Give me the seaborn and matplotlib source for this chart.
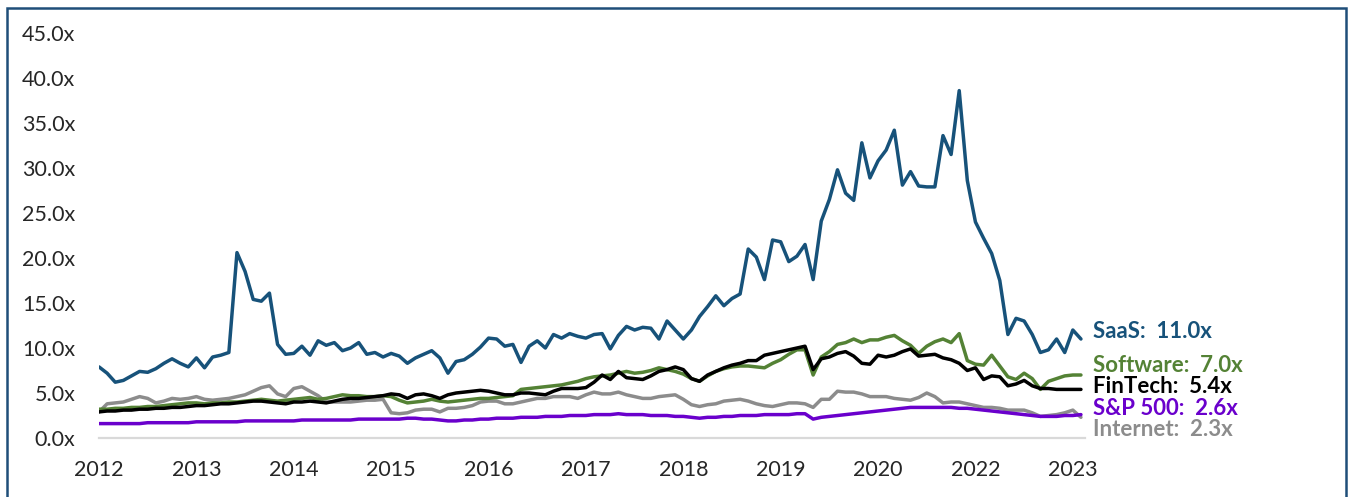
import pandas as pd
import matplotlib.pyplot as plt
import seaborn as sns
from matplotlib.patches import Rectangle

# Valores mensais (índice do mês a partir de jan/2012)
saas = [7.9, 7.2, 6.2, 6.4, 6.9, 7.4, 7.3, 7.7, 8.3, 8.8, 8.3, 7.9, 8.9, 7.8, 9.0, 9.2, 9.5,
        20.6, 18.5, 15.4, 15.2, 16.1, 10.4, 9.3, 9.4, 10.2, 9.2, 10.8, 10.3, 10.6, 9.7, 10.0,
        10.6, 9.3, 9.5, 9.0, 9.4, 9.1, 8.3, 8.9, 9.3, 9.7, 8.9, 7.2, 8.5, 8.7, 9.3, 10.1, 11.1,
        11.0, 10.2, 10.4, 8.4, 10.2, 10.8, 10.0, 11.5, 11.1, 11.6, 11.3, 11.1, 11.5, 11.6, 9.9,
        11.4, 12.4, 12.0, 12.3, 12.2, 11.0, 13.0, 12.0, 11.0, 12.0, 13.5, 14.6, 15.8, 14.7, 15.5,
        16.0, 21.0, 20.1, 17.6, 22.0, 21.8, 19.6, 20.2, 21.5, 17.6, 24.1, 26.5, 29.8, 27.2, 26.4,
        32.8, 28.9, 30.8, 32.0, 34.2, 28.1, 29.6, 28.0, 27.9, 27.9, 33.6, 31.5, 38.6, 28.6, 24.0,
        22.2, 20.5, 17.5, 11.5, 13.3, 13.0, 11.5, 9.5, 9.8, 11.0, 9.5, 12.0, 11.0]

software = [3.2, 3.2, 3.3, 3.3, 3.4, 3.4, 3.5, 3.5, 3.6, 3.7, 3.8, 3.9, 3.9, 3.8, 3.9, 3.9, 4.0,
            4.0, 4.1, 4.2, 4.3, 4.2, 4.1, 4.2, 4.3, 4.4, 4.5, 4.3, 4.4, 4.6, 4.8, 4.7, 4.7, 4.6,
            4.6, 4.7, 4.6, 4.2, 3.9, 4.0, 4.1, 4.3, 4.1, 4.0, 4.1, 4.2, 4.3, 4.4, 4.4, 4.5, 4.6,
            4.7, 5.4, 5.5, 5.6, 5.7, 5.8, 5.9, 6.1, 6.3, 6.6, 6.8, 6.9, 7.0, 7.2, 7.4, 7.2, 7.3,
            7.5, 7.8, 7.6, 7.4, 7.1, 6.6, 6.3, 6.9, 7.4, 7.7, 7.9, 8.0, 8.0, 7.9, 7.8, 8.3, 8.7,
            9.3, 9.8, 9.8, 7.0, 9.0, 9.6, 10.4, 10.6, 11.0, 10.6, 10.9, 10.9, 11.2, 11.4, 10.8,
            10.3, 9.4, 10.2, 10.7, 11.0, 10.6, 11.6, 8.6, 8.2, 8.1, 9.2, 8.0, 6.8, 6.5, 7.2, 6.6,
            5.4, 6.3, 6.6, 6.9, 7.0, 7.0]

fintech = [2.9, 3.0, 3.0, 3.1, 3.1, 3.2, 3.2, 3.3, 3.3, 3.4, 3.4, 3.5, 3.6, 3.6, 3.7, 3.8, 3.8,
           3.9, 4.0, 4.1, 4.1, 4.0, 3.9, 3.8, 4.0, 4.0, 4.1, 4.0, 3.9, 4.1, 4.3, 4.4, 4.4, 4.5,
           4.6, 4.7, 4.9, 4.8, 4.4, 4.8, 4.9, 4.7, 4.4, 4.8, 5.0, 5.1, 5.2, 5.3, 5.2, 5.0, 4.8,
           4.8, 5.0, 5.0, 4.9, 4.8, 5.2, 5.5, 5.5, 5.5, 5.6, 6.2, 7.0, 6.5, 7.4, 6.7, 6.6, 6.5,
           6.9, 7.4, 7.6, 7.9, 7.6, 6.6, 6.3, 7.0, 7.4, 7.8, 8.1, 8.3, 8.6, 8.6, 9.2, 9.4, 9.6,
           9.8, 10.0, 10.2, 7.6, 8.8, 9.0, 9.4, 9.6, 9.1, 8.3, 8.2, 9.2, 9.0, 9.2, 9.6, 9.9, 9.1,
           9.2, 9.3, 8.9, 8.7, 8.3, 7.5, 7.8, 6.5, 6.9, 6.8, 5.8, 6.0, 6.4, 5.8, 5.5, 5.5, 5.4,
           5.4, 5.4, 5.4]

sp500 = [1.6, 1.6, 1.6, 1.6, 1.6, 1.6, 1.7, 1.7, 1.7, 1.7, 1.7, 1.7, 1.8, 1.8, 1.8, 1.8, 1.8,
         1.8, 1.9, 1.9, 1.9, 1.9, 1.9, 1.9, 1.9, 2.0, 2.0, 2.0, 2.0, 2.0, 2.0, 2.0, 2.1, 2.1,
         2.1, 2.1, 2.1, 2.1, 2.2, 2.2, 2.1, 2.1, 2.0, 1.9, 1.9, 2.0, 2.0, 2.1, 2.1, 2.2, 2.2,
         2.2, 2.3, 2.3, 2.3, 2.4, 2.4, 2.4, 2.5, 2.5, 2.5, 2.6, 2.6, 2.6, 2.7, 2.6, 2.6, 2.6,
         2.5, 2.5, 2.5, 2.4, 2.4, 2.3, 2.2, 2.3, 2.3, 2.4, 2.4, 2.5, 2.5, 2.5, 2.6, 2.6, 2.6,
         2.6, 2.7, 2.7, 2.1, 2.3, 2.4, 2.5, 2.6, 2.7, 2.8, 2.9, 3.0, 3.1, 3.2, 3.3, 3.4, 3.4,
         3.4, 3.4, 3.4, 3.4, 3.3, 3.3, 3.2, 3.1, 3.0, 2.9, 2.8, 2.7, 2.6, 2.5, 2.4, 2.4, 2.4,
         2.5, 2.5, 2.6]

internet = [2.9, 3.8, 3.9, 4.0, 4.3, 4.6, 4.4, 3.9, 4.1, 4.4, 4.3, 4.4, 4.6, 4.3, 4.2, 4.3, 4.4,
            4.6, 4.8, 5.2, 5.6, 5.8, 4.9, 4.6, 5.5, 5.7, 5.2, 4.7, 4.0, 4.0, 4.0, 4.0, 4.1, 4.2,
            4.2, 4.3, 2.8, 2.7, 2.8, 3.1, 3.2, 3.2, 2.9, 3.3, 3.3, 3.4, 3.6, 4.0, 4.1, 4.1, 3.8,
            3.8, 4.0, 4.2, 4.4, 4.4, 4.6, 4.6, 4.6, 4.4, 4.8, 5.1, 4.9, 4.9, 5.1, 4.8, 4.6, 4.4,
            4.4, 4.6, 4.7, 4.8, 4.3, 3.7, 3.5, 3.7, 3.8, 4.1, 4.2, 4.3, 4.1, 3.8, 3.6, 3.5, 3.7,
            3.9, 3.9, 3.8, 3.4, 4.3, 4.3, 5.2, 5.1, 5.1, 4.9, 4.6, 4.6, 4.6, 4.4, 4.3, 4.2, 4.5,
            5.0, 4.6, 3.9, 4.0, 4.0, 3.8, 3.6, 3.4, 3.4, 3.3, 3.1, 3.1, 3.1, 2.8, 2.4, 2.5, 2.6,
            2.8, 3.1, 2.3]

series_names = ['Internet', 'S&P 500', 'Software', 'FinTech', 'SaaS']
series_values = [internet, sp500, software, fintech, saas]
year_labels = ['2012', '2013', '2014', '2015', '2016', '2017', '2018', '2019', '2020', '2022', '2023']

cores = {
    'SaaS': '#17527A',
    'Software': '#548235',
    'FinTech': '#000000',
    'S&P 500': '#6A00CC',
    'Internet': '#8C8C8C',
}

# Montar DataFrame longo
linhas = []
for nome, vals in zip(series_names, series_values):
    for i, v in enumerate(vals):
        linhas.append({'mes': i, 'valor': v, 'serie': nome})
df = pd.DataFrame(linhas)

sns.set_style('white')
plt.rcParams['font.family'] = ['Lato', 'DejaVu Sans']

fig = plt.figure(figsize=(13.49, 4.97), dpi=100)
ax = fig.add_axes([0.0734, 0.1187, 0.7309, 0.8149])

sns.lineplot(data=df, x='mes', y='valor', hue='serie', hue_order=series_names,
             palette=cores, linewidth=2.5, legend=False, ax=ax)

ax.set_xlim(0, 121.5)
ax.set_ylim(0, 45)
ax.set_xticks(range(0, 121, 12))
ax.set_xticklabels(year_labels)
ax.set_yticks(range(0, 46, 5))
ax.set_yticklabels([f'{v:.1f}x' for v in range(0, 46, 5)])
ax.set_xlabel('')
ax.set_ylabel('')

for lado in ['top', 'right', 'left']:
    ax.spines[lado].set_visible(False)
ax.spines['bottom'].set_color('#D9D9D9')
ax.spines['bottom'].set_linewidth(1.6)
ax.tick_params(axis='x', direction='out', length=5, width=1.2, color='#D9D9D9',
               labelsize=15.5, pad=11)
ax.tick_params(axis='y', length=0, labelsize=15.5, pad=17)
ax.grid(False)

# Rótulos à direita das linhas
rotulo_y = {'SaaS': 11.8, 'Software': 8.1, 'FinTech': 5.7, 'S&P 500': 3.3, 'Internet': 0.9}
for nome, vals in zip(series_names, series_values):
    ax.text(122.5, rotulo_y[nome], f'{nome}:  {vals[-1]:.1f}x', color=cores[nome],
            fontsize=16, fontweight='bold', va='center', ha='left', clip_on=False)

# Moldura da figura
fig.patches.append(Rectangle((7 / 1349, -0.1), 1339 / 1349, 1.1 - 8 / 497,
                             transform=fig.transFigure, fill=False,
                             edgecolor='#1F4E79', linewidth=1.8))

fig.savefig('out.png', dpi=100)
